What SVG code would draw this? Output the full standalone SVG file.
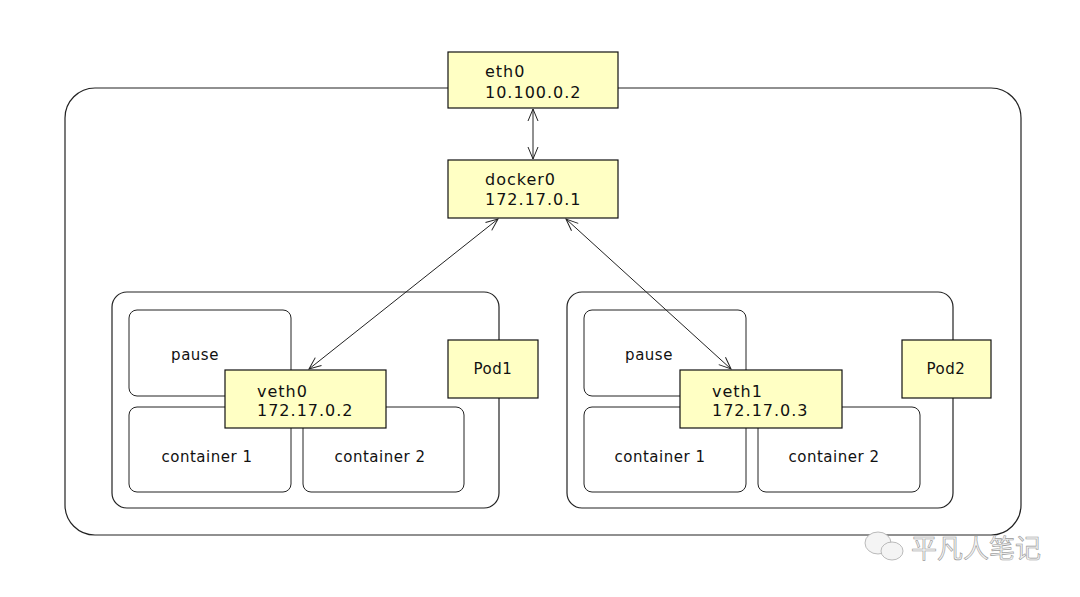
<svg xmlns="http://www.w3.org/2000/svg" width="1080" height="597" viewBox="0 0 1080 597">
<defs>
<marker id="arr" markerWidth="14" markerHeight="12" refX="13" refY="6" orient="auto-start-reverse" markerUnits="userSpaceOnUse">
<path d="M1,1 L13,6 L1,11" fill="none" stroke="#222" stroke-width="1"/>
</marker>
<style>
.frame{fill:#fff;stroke:#222;stroke-width:1.2}
.box{fill:#fff;stroke:#222;stroke-width:1}
.yel{fill:#ffffc4;stroke:#111;stroke-width:1.2}
.t{font-family:"DejaVu Sans",sans-serif;font-size:16px;fill:#111;letter-spacing:1px}
.s{font-family:"DejaVu Sans",sans-serif;font-size:15px;fill:#111;letter-spacing:0.5px;text-anchor:middle}
.c{stroke:#222;stroke-width:1;fill:none}
.wm{font-family:"Noto Sans CJK SC",sans-serif;font-size:26px;fill:#f2f2f2;stroke:#9a9a9a;stroke-width:0.6}
</style>
</defs>
<rect width="1080" height="597" fill="#fff"/>
<g id="host"><rect class="frame" x="65" y="88" width="956" height="447" rx="30"/></g>
<g id="pod1-frame"><rect class="frame" x="112" y="292" width="387" height="216" rx="15"/></g>
<g id="pod2-frame"><rect class="frame" x="567" y="292" width="386" height="216" rx="15"/></g>
<g id="pause1"><rect class="box" x="129" y="310" width="162" height="86" rx="8"/><text class="s" x="195" y="360">pause</text></g>
<g id="c1-1"><rect class="box" x="129" y="407" width="162" height="85" rx="8"/><text class="s" x="207" y="462">container 1</text></g>
<g id="c2-1"><rect class="box" x="303" y="407" width="161" height="85" rx="8"/><text class="s" x="380" y="462">container 2</text></g>
<g id="pause2"><rect class="box" x="584" y="310" width="162" height="86" rx="8"/><text class="s" x="649" y="360">pause</text></g>
<g id="c1-2"><rect class="box" x="584" y="407" width="162" height="85" rx="8"/><text class="s" x="660" y="462">container 1</text></g>
<g id="c2-2"><rect class="box" x="758" y="407" width="162" height="85" rx="8"/><text class="s" x="834" y="462">container 2</text></g>
<g id="eth0"><rect class="yel" x="448" y="52" width="170" height="56"/><text class="t" x="485" y="77">eth0</text><text class="t" x="485" y="98">10.100.0.2</text></g>
<g id="docker0"><rect class="yel" x="448" y="160" width="170" height="58"/><text class="t" x="485" y="185">docker0</text><text class="t" x="485" y="205">172.17.0.1</text></g>
<g id="veth0"><rect class="yel" x="225" y="370" width="161" height="58"/><text class="t" x="257" y="397">veth0</text><text class="t" x="257" y="416">172.17.0.2</text></g>
<g id="veth1"><rect class="yel" x="680" y="370" width="162" height="58"/><text class="t" x="712" y="397">veth1</text><text class="t" x="712" y="416">172.17.0.3</text></g>
<g id="pod1"><rect class="yel" x="448" y="340" width="90" height="58"/><text class="s" x="493" y="374">Pod1</text></g>
<g id="pod2"><rect class="yel" x="902" y="340" width="89" height="58"/><text class="s" x="946" y="374">Pod2</text></g>
<g id="connectors">
<line class="c" x1="533" y1="109" x2="533" y2="159" marker-start="url(#arr)" marker-end="url(#arr)"/>
<line class="c" x1="498" y1="219" x2="309" y2="369" marker-start="url(#arr)" marker-end="url(#arr)"/>
<line class="c" x1="566" y1="219" x2="731" y2="369" marker-start="url(#arr)" marker-end="url(#arr)"/>
</g>
<g id="watermark">
<ellipse cx="878" cy="543" rx="13" ry="11" fill="#f4f4f4" stroke="#aaa" stroke-width="0.8"/>
<ellipse cx="892" cy="551" rx="11" ry="9" fill="#f4f4f4" stroke="#aaa" stroke-width="0.8"/>
<text class="wm" x="911" y="558">平凡人笔记</text>
</g>
</svg>
